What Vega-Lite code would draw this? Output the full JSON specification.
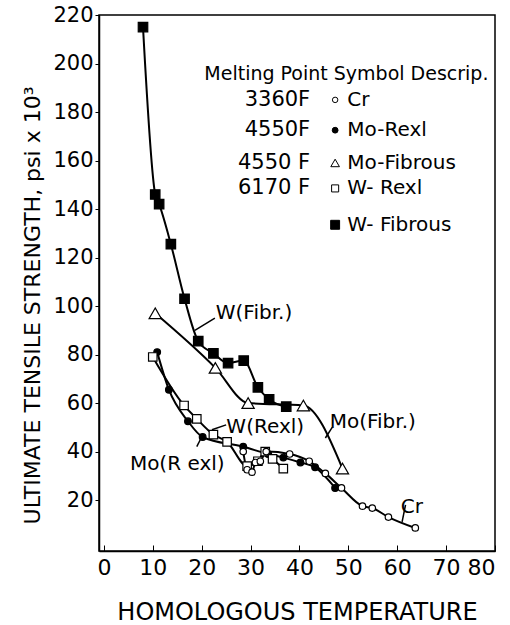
{
  "$schema": "https://vega.github.io/schema/vega-lite/v6.json",
  "width": 396,
  "height": 536,
  "autosize": {"type": "none"},
  "padding": {"left": 99, "top": 15, "right": 15, "bottom": 74},
  "background": "white",
  "config": {
    "font": "DejaVu Sans",
    "view": {"stroke": "black", "strokeWidth": 1.5},
    "axis": {"domainColor": "black", "tickColor": "black", "labelColor": "black", "titleColor": "black", "grid": false, "labelFont": "DejaVu Sans", "titleFont": "DejaVu Sans", "labelFontWeight": "normal", "titleFontWeight": "normal"}
  },
  "resolve": {"scale": {"size": "independent"}},
  "datasets": {
    "curves": [
      {"series": "W-Fibrous", "x": 8, "y": 215},
      {"series": "W-Fibrous", "x": 10.5, "y": 146},
      {"series": "W-Fibrous", "x": 11.3, "y": 142},
      {"series": "W-Fibrous", "x": 13.7, "y": 125.5},
      {"series": "W-Fibrous", "x": 16.5, "y": 103},
      {"series": "W-Fibrous", "x": 19.3, "y": 85.5},
      {"series": "W-Fibrous", "x": 22.4, "y": 80.5},
      {"series": "W-Fibrous", "x": 25.4, "y": 76.5},
      {"series": "W-Fibrous", "x": 28.6, "y": 77.5},
      {"series": "W-Fibrous", "x": 31.5, "y": 66.5},
      {"series": "W-Fibrous", "x": 33.8, "y": 61.5},
      {"series": "W-Fibrous", "x": 37.3, "y": 58.5},
      {"series": "Mo-Fibrous", "x": 10.5, "y": 97},
      {"series": "Mo-Fibrous", "x": 22.8, "y": 74.5},
      {"series": "Mo-Fibrous", "x": 29.5, "y": 60},
      {"series": "Mo-Fibrous", "x": 40.8, "y": 59},
      {"series": "Mo-Fibrous", "x": 48.8, "y": 33},
      {"series": "Mo-Rexl", "x": 10.9, "y": 81},
      {"series": "Mo-Rexl", "x": 13.3, "y": 65.5},
      {"series": "Mo-Rexl", "x": 17.2, "y": 52.5},
      {"series": "Mo-Rexl", "x": 20.2, "y": 46},
      {"series": "Mo-Rexl", "x": 28.5, "y": 42},
      {"series": "Mo-Rexl", "x": 33.6, "y": 39},
      {"series": "Mo-Rexl", "x": 36.7, "y": 37.5},
      {"series": "Mo-Rexl", "x": 40.2, "y": 35.5},
      {"series": "Mo-Rexl", "x": 43.2, "y": 33.5},
      {"series": "Mo-Rexl", "x": 47.3, "y": 25},
      {"series": "W-Rexl", "x": 10, "y": 79},
      {"series": "W-Rexl", "x": 16.4, "y": 59},
      {"series": "W-Rexl", "x": 19, "y": 53.5},
      {"series": "W-Rexl", "x": 22.4, "y": 47},
      {"series": "W-Rexl", "x": 25.2, "y": 44},
      {"series": "W-Rexl", "x": 29.3, "y": 34},
      {"series": "W-Rexl", "x": 31.5, "y": 36},
      {"series": "W-Rexl", "x": 33, "y": 40},
      {"series": "W-Rexl", "x": 34.5, "y": 37},
      {"series": "W-Rexl", "x": 36.7, "y": 33},
      {"series": "Cr", "x": 28.5, "y": 40},
      {"series": "Cr", "x": 29.3, "y": 32.5},
      {"series": "Cr", "x": 30.3, "y": 31.5},
      {"series": "Cr", "x": 31, "y": 35.5},
      {"series": "Cr", "x": 32, "y": 36},
      {"series": "Cr", "x": 33.2, "y": 40},
      {"series": "Cr", "x": 38, "y": 39},
      {"series": "Cr", "x": 42, "y": 36},
      {"series": "Cr", "x": 45.3, "y": 31},
      {"series": "Cr", "x": 48.6, "y": 25},
      {"series": "Cr", "x": 52.9, "y": 17.5},
      {"series": "Cr", "x": 54.9, "y": 16.7},
      {"series": "Cr", "x": 58.2, "y": 13},
      {"series": "Cr", "x": 63.7, "y": 8.5}
    ],
    "labels": [
      {"text": "W(Fibr.)", "x": 30.7, "y": 97},
      {"text": "W(Rexl)", "x": 33, "y": 50},
      {"text": "Mo(R exl)", "x": 15, "y": 35},
      {"text": "Mo(Fibr.)", "x": 55, "y": 52},
      {"text": "Cr", "x": 63, "y": 17}
    ],
    "leaders": [
      {"x": 22.7, "y": 95, "x2": 18.6, "y2": 90},
      {"x": 25, "y": 51, "x2": 22.1, "y2": 49},
      {"x": 19, "y": 42, "x2": 20, "y2": 46},
      {"x": 46.7, "y": 50, "x2": 45.3, "y2": 45.6},
      {"x": 61.7, "y": 18, "x2": 61, "y2": 11}
    ],
    "legend": [
      {"melt": "3360F", "series": "Cr", "desc": "Cr", "row": 185},
      {"melt": "4550F", "series": "Mo-Rexl", "desc": "Mo-Rexl", "row": 172.5},
      {"melt": "4550 F", "series": "Mo-Fibrous", "desc": "Mo-Fibrous", "row": 159},
      {"melt": "6170 F", "series": "W-Rexl", "desc": "W- Rexl", "row": 148.5},
      {"melt": "", "series": "W-Fibrous", "desc": "W- Fibrous", "row": 133.5}
    ],
    "header": [{"text": "Melting Point Symbol Descrip.", "x": 49.6, "y": 195.5}]
  },
  "encoding": {},
  "layer": [
    {
      "data": {"name": "curves"},
      "mark": {"type": "line", "interpolate": "monotone", "color": "black", "strokeWidth": 2},
      "encoding": {
        "x": {"field": "x", "type": "quantitative", "scale": {"domain": [-1, 80], "nice": false, "zero": false},
          "axis": {"values": [0, 10, 20, 30, 40, 50, 60, 70, 80], "title": "HOMOLOGOUS TEMPERATURE", "titleFontSize": 24, "titlePadding": 22, "labelFontSize": 22, "tickSize": -6, "labelPadding": 12, "domain": true, "domainWidth": 1.5}},
        "y": {"field": "y", "type": "quantitative", "scale": {"domain": [-1, 220], "nice": false, "zero": false},
          "axis": {"values": [20, 40, 60, 80, 100, 120, 140, 160, 180, 200, 220], "title": "ULTIMATE TENSILE STRENGTH, psi x 10³", "titleFontSize": 22, "titlePadding": 8, "titleY": 290, "labelFontSize": 21, "tickSize": 4, "labelPadding": 2, "domainWidth": 1.5}},
        "detail": {"field": "series"}
      }
    },
    {
      "data": {"name": "curves"},
      "mark": {"type": "point", "filled": true, "stroke": "black", "strokeWidth": 1.2, "opacity": 1},
      "encoding": {
        "x": {"field": "x", "type": "quantitative"},
        "y": {"field": "y", "type": "quantitative"},
        "shape": {"field": "series", "type": "nominal", "legend": null, "scale": {"domain": ["Cr", "Mo-Rexl", "Mo-Fibrous", "W-Rexl", "W-Fibrous"], "range": ["circle", "circle", "triangle-up", "square", "square"]}},
        "fill": {"field": "series", "type": "nominal", "legend": null, "scale": {"domain": ["Cr", "Mo-Rexl", "Mo-Fibrous", "W-Rexl", "W-Fibrous"], "range": ["white", "black", "white", "white", "black"]}},
        "size": {"field": "series", "type": "nominal", "legend": null, "scale": {"type": "ordinal", "domain": ["Cr", "Mo-Rexl", "Mo-Fibrous", "W-Rexl", "W-Fibrous"], "range": [42, 45, 150, 72, 90]}}
      }
    },
    {
      "data": {"name": "leaders"},
      "mark": {"type": "rule", "color": "black", "strokeWidth": 1.5},
      "encoding": {
        "x": {"field": "x", "type": "quantitative"},
        "y": {"field": "y", "type": "quantitative"},
        "x2": {"field": "x2"},
        "y2": {"field": "y2"}
      }
    },
    {
      "data": {"name": "labels"},
      "mark": {"type": "text", "fontSize": 20, "color": "black", "align": "center", "baseline": "middle"},
      "encoding": {
        "x": {"field": "x", "type": "quantitative"},
        "y": {"field": "y", "type": "quantitative"},
        "text": {"field": "text"}
      }
    },
    {
      "data": {"name": "header"},
      "mark": {"type": "text", "fontSize": 19, "color": "black", "align": "center", "baseline": "middle"},
      "encoding": {
        "x": {"field": "x", "type": "quantitative"},
        "y": {"field": "y", "type": "quantitative"},
        "text": {"field": "text"}
      }
    },
    {
      "data": {"name": "legend"},
      "mark": {"type": "text", "fontSize": 21, "color": "black", "align": "right", "baseline": "middle"},
      "encoding": {
        "x": {"datum": 42.2, "type": "quantitative"},
        "y": {"field": "row", "type": "quantitative"},
        "text": {"field": "melt"}
      }
    },
    {
      "data": {"name": "legend"},
      "mark": {"type": "point", "filled": true, "stroke": "black", "strokeWidth": 1, "opacity": 1},
      "encoding": {
        "x": {"datum": 47.3, "type": "quantitative"},
        "y": {"field": "row", "type": "quantitative"},
        "shape": {"field": "series", "type": "nominal", "legend": null},
        "fill": {"field": "series", "type": "nominal", "legend": null},
        "size": {"field": "series", "type": "nominal", "legend": null, "scale": {"type": "ordinal", "domain": ["Cr", "Mo-Rexl", "Mo-Fibrous", "W-Rexl", "W-Fibrous"], "range": [30, 34, 75, 50, 80]}}
      }
    },
    {
      "data": {"name": "legend"},
      "mark": {"type": "text", "fontSize": 20, "color": "black", "align": "left", "baseline": "middle"},
      "encoding": {
        "x": {"datum": 49.8, "type": "quantitative"},
        "y": {"field": "row", "type": "quantitative"},
        "text": {"field": "desc"}
      }
    }
  ]
}
